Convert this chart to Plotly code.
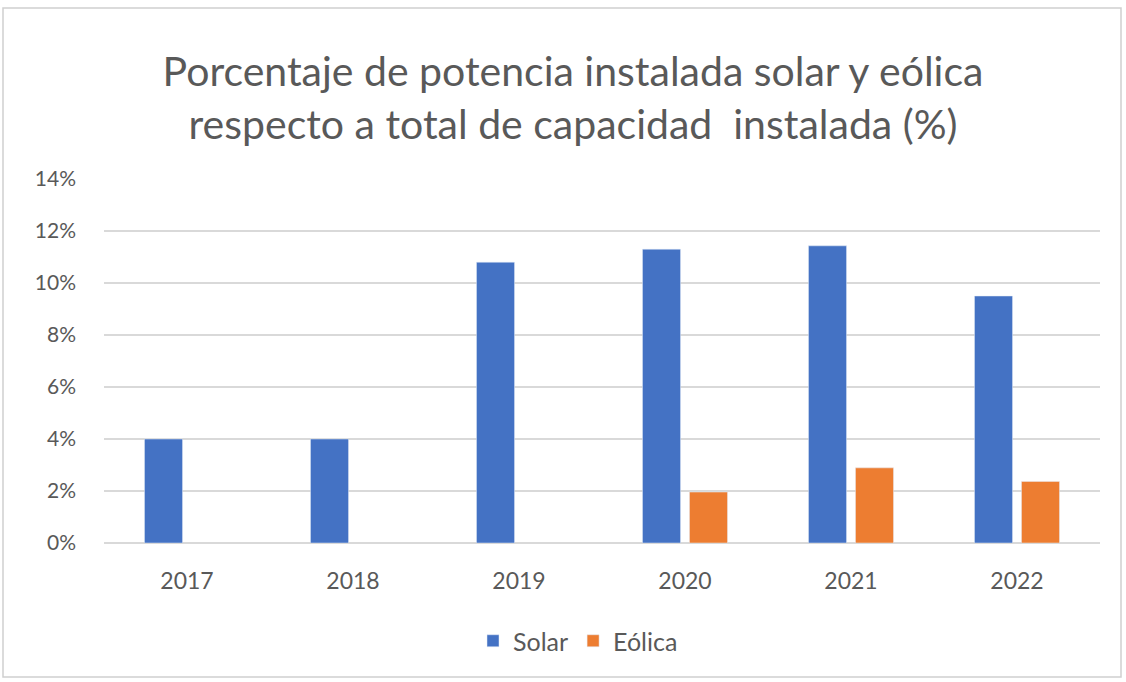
import plotly.graph_objects as go

years = ["2017", "2018", "2019", "2020", "2021", "2022"]
solar = [4.0, 4.0, 10.8, 11.3, 11.43, 9.5]
eolica = [None, None, None, 1.96, 2.89, 2.37]
y_ticks = [0, 2, 4, 6, 8, 10, 12, 14]
y_tick_labels = [f"{v}%" for v in y_ticks]

FONT = "Lato"
GRAY = "#595959"

fig = go.Figure()
fig.add_trace(go.Bar(x=years, y=solar, name="Solar", marker=dict(color="#4472C4")))
fig.add_trace(go.Bar(x=years, y=eolica, name="Eólica", marker=dict(color="#ED7D31")))

W, H = 1126, 682
L, R, T, B = 104, 26, 179, 139
pw = W - L - R
ph = H - T - B

def px_x(p):
    return (p - L) / pw

def px_y(p):
    return (H - B - p) / ph

fig.update_layout(
    width=W, height=H,
    margin=dict(l=L, r=R, t=T, b=B),
    paper_bgcolor="white", plot_bgcolor="white",
    font=dict(family=FONT, color=GRAY, size=20),
    title=dict(
        text="Porcentaje de potencia instalada solar y eólica<br>respecto a total de capacidad  instalada (%)",
        x=573 / W, xanchor="center", xref="container",
        y=1 - 86 / H, yanchor="middle", yref="container",
        font=dict(family=FONT, size=41, color=GRAY),
    ),
    barmode="group", bargap=0.434, bargroupgap=0.19,
    showlegend=True,
    legend=dict(orientation="h", x=578 / W, xanchor="center", xref="container",
                y=1 - 641 / H, yanchor="middle", yref="container",
                font=dict(size=25, color=GRAY), itemwidth=30, traceorder="normal"),
    xaxis=dict(showgrid=False, showline=False, ticks="", ticklabelstandoff=22,
               tickfont=dict(size=23, color=GRAY)),
    yaxis=dict(range=[0, 14], tickvals=y_ticks, ticktext=y_tick_labels,
               showgrid=True, gridcolor="#D9D9D9", gridwidth=1.5,
               zeroline=True, zerolinecolor="#D9D9D9", zerolinewidth=1.5,
               showline=False, ticks="", ticklabelstandoff=27,
               tickfont=dict(size=21, color=GRAY)),
    shapes=[dict(type="rect", xref="paper", yref="paper",
                 x0=px_x(3), x1=px_x(1121), y0=px_y(677), y1=px_y(8),
                 line=dict(color="#D0D0D0", width=1.5), fillcolor="rgba(0,0,0,0)", layer="below")],
)

fig.write_html("out.html", config={"displayModeBar": False},
               post_script="document.body.style.margin='0';document.body.style.padding='0';")
